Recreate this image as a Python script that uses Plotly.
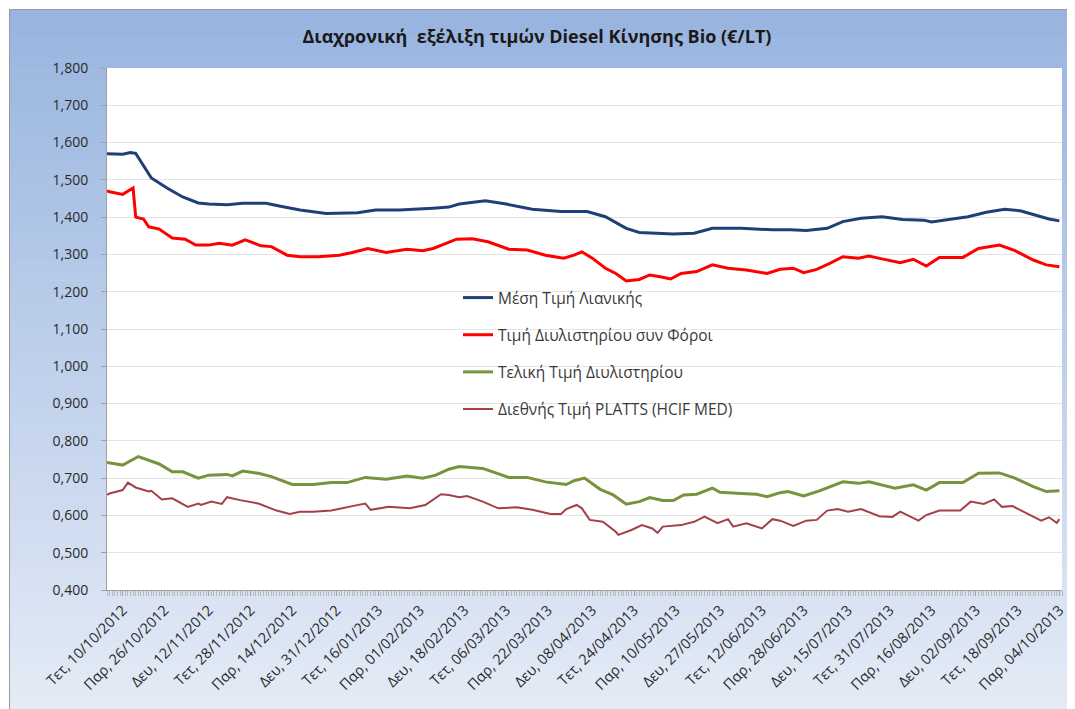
import plotly.graph_objects as go

# ---------------- data ----------------
retail_dates = ["2012-10-04", "2012-10-10", "2012-10-13", "2012-10-15", "2012-10-21", "2012-10-27",
                "2012-11-02", "2012-11-08", "2012-11-12", "2012-11-19", "2012-11-25", "2012-12-04",
                "2012-12-09", "2012-12-17", "2012-12-27", "2013-01-08", "2013-01-15", "2013-01-24",
                "2013-02-06", "2013-02-12", "2013-02-16", "2013-02-26", "2013-03-06", "2013-03-16",
                "2013-03-27", "2013-04-06", "2013-04-13", "2013-04-21", "2013-04-26", "2013-05-09",
                "2013-05-17", "2013-05-24", "2013-06-04", "2013-06-16", "2013-06-23", "2013-06-29",
                "2013-07-07", "2013-07-13", "2013-07-20", "2013-07-28", "2013-08-05", "2013-08-13",
                "2013-08-16", "2013-08-23", "2013-08-30", "2013-09-06", "2013-09-13", "2013-09-19",
                "2013-09-25", "2013-09-30", "2013-10-04"]
retail_vals = [1.570, 1.569, 1.573, 1.571, 1.505, 1.478,
               1.454, 1.438, 1.435, 1.433, 1.437, 1.437,
               1.430, 1.419, 1.410, 1.412, 1.419, 1.419,
               1.424, 1.427, 1.435, 1.444, 1.435, 1.421,
               1.415, 1.415, 1.401, 1.370, 1.359, 1.355,
               1.357, 1.370, 1.370, 1.366, 1.366, 1.364,
               1.370, 1.388, 1.397, 1.401, 1.394, 1.392,
               1.387, 1.394, 1.401, 1.413, 1.421, 1.417,
               1.406, 1.395, 1.390]

taxed_dates = ["2012-10-04", "2012-10-05", "2012-10-10", "2012-10-14", "2012-10-15", "2012-10-18",
               "2012-10-20", "2012-10-24", "2012-10-29", "2012-11-03", "2012-11-07", "2012-11-12",
               "2012-11-16", "2012-11-21", "2012-11-26", "2012-12-02", "2012-12-06", "2012-12-12",
               "2012-12-17", "2012-12-24", "2013-01-01", "2013-01-06", "2013-01-12", "2013-01-19",
               "2013-01-27", "2013-02-02", "2013-02-06", "2013-02-12", "2013-02-15", "2013-02-21",
               "2013-02-27", "2013-03-07", "2013-03-14", "2013-03-21", "2013-03-28", "2013-04-01",
               "2013-04-04", "2013-04-08", "2013-04-13", "2013-04-17", "2013-04-21", "2013-04-26",
               "2013-04-30", "2013-05-04", "2013-05-08", "2013-05-12", "2013-05-18", "2013-05-24",
               "2013-05-30", "2013-06-06", "2013-06-14", "2013-06-19", "2013-06-24", "2013-06-28",
               "2013-07-03", "2013-07-08", "2013-07-13", "2013-07-19", "2013-07-23", "2013-07-28",
               "2013-08-04", "2013-08-09", "2013-08-14", "2013-08-19", "2013-08-28", "2013-09-03",
               "2013-09-11", "2013-09-17", "2013-09-24", "2013-09-29", "2013-10-04"]
taxed_vals = [1.470, 1.468, 1.461, 1.478, 1.400, 1.395,
              1.374, 1.368, 1.344, 1.341, 1.325, 1.325,
              1.330, 1.325, 1.339, 1.323, 1.321, 1.298,
              1.294, 1.294, 1.298, 1.305, 1.316, 1.305,
              1.314, 1.310, 1.316, 1.334, 1.341, 1.342,
              1.334, 1.314, 1.312, 1.298, 1.290, 1.298,
              1.307, 1.290, 1.263, 1.249, 1.229, 1.233,
              1.245, 1.240, 1.234, 1.249, 1.254, 1.272,
              1.263, 1.258, 1.249, 1.260, 1.263, 1.251,
              1.260, 1.276, 1.294, 1.290, 1.296, 1.288,
              1.278, 1.287, 1.269, 1.292, 1.292, 1.316,
              1.325, 1.310, 1.285, 1.272, 1.267]

refinery_dates = ["2012-10-04", "2012-10-05", "2012-10-10", "2012-10-16", "2012-10-20", "2012-10-24",
                  "2012-10-29", "2012-11-02", "2012-11-08", "2012-11-12", "2012-11-19", "2012-11-21",
                  "2012-11-25", "2012-12-01", "2012-12-06", "2012-12-14", "2012-12-22", "2012-12-29",
                  "2013-01-04", "2013-01-11", "2013-01-19", "2013-01-27", "2013-02-02", "2013-02-07",
                  "2013-02-12", "2013-02-16", "2013-02-25", "2013-03-07", "2013-03-14", "2013-03-21",
                  "2013-03-29", "2013-04-01", "2013-04-05", "2013-04-11", "2013-04-16", "2013-04-21",
                  "2013-04-26", "2013-04-30", "2013-05-05", "2013-05-09", "2013-05-13", "2013-05-18",
                  "2013-05-24", "2013-05-27", "2013-06-04", "2013-06-10", "2013-06-14", "2013-06-19",
                  "2013-06-22", "2013-06-28", "2013-07-04", "2013-07-13", "2013-07-19", "2013-07-23",
                  "2013-08-02", "2013-08-09", "2013-08-14", "2013-08-19", "2013-08-28", "2013-09-03",
                  "2013-09-11", "2013-09-17", "2013-09-24", "2013-09-29", "2013-10-04"]
refinery_vals = [0.742, 0.741, 0.735, 0.758, 0.747, 0.738,
                 0.717, 0.717, 0.700, 0.708, 0.710, 0.706,
                 0.719, 0.713, 0.704, 0.683, 0.683, 0.688,
                 0.688, 0.702, 0.697, 0.706, 0.700, 0.708,
                 0.724, 0.731, 0.726, 0.702, 0.702, 0.690,
                 0.683, 0.693, 0.700, 0.670, 0.655, 0.630,
                 0.637, 0.648, 0.640, 0.640, 0.655, 0.657,
                 0.673, 0.662, 0.659, 0.657, 0.650, 0.661,
                 0.664, 0.652, 0.666, 0.690, 0.686, 0.690,
                 0.673, 0.682, 0.668, 0.688, 0.688, 0.713,
                 0.714, 0.700, 0.677, 0.664, 0.666]

platts_dates = ["2012-10-04", "2012-10-05", "2012-10-10", "2012-10-12", "2012-10-15", "2012-10-20",
                "2012-10-21", "2012-10-25", "2012-10-29", "2012-11-04", "2012-11-08", "2012-11-09",
                "2012-11-13", "2012-11-17", "2012-11-19", "2012-11-24", "2012-12-01", "2012-12-08",
                "2012-12-13", "2012-12-17", "2012-12-22", "2012-12-29", "2013-01-06", "2013-01-11",
                "2013-01-13", "2013-01-20", "2013-01-28", "2013-02-03", "2013-02-09", "2013-02-12",
                "2013-02-16", "2013-02-19", "2013-02-25", "2013-03-03", "2013-03-10", "2013-03-16",
                "2013-03-23", "2013-03-27", "2013-03-29", "2013-04-02", "2013-04-04", "2013-04-07",
                "2013-04-12", "2013-04-17", "2013-04-18", "2013-04-23", "2013-04-27", "2013-05-01",
                "2013-05-03", "2013-05-05", "2013-05-12", "2013-05-17", "2013-05-21", "2013-05-26",
                "2013-05-30", "2013-06-01", "2013-06-06", "2013-06-12", "2013-06-16", "2013-06-19",
                "2013-06-24", "2013-06-29", "2013-07-03", "2013-07-07", "2013-07-11", "2013-07-15",
                "2013-07-20", "2013-07-27", "2013-08-01", "2013-08-04", "2013-08-11", "2013-08-14",
                "2013-08-19", "2013-08-27", "2013-08-31", "2013-09-05", "2013-09-09", "2013-09-12",
                "2013-09-16", "2013-09-23", "2013-09-27", "2013-09-30", "2013-10-03", "2013-10-04"]
platts_vals = [0.655, 0.659, 0.668, 0.688, 0.675, 0.664,
               0.666, 0.643, 0.646, 0.623, 0.632, 0.628,
               0.637, 0.631, 0.649, 0.641, 0.632, 0.613,
               0.604, 0.610, 0.610, 0.613, 0.625, 0.632,
               0.615, 0.623, 0.619, 0.628, 0.657, 0.655,
               0.649, 0.652, 0.637, 0.619, 0.622, 0.615,
               0.604, 0.604, 0.617, 0.628, 0.619, 0.588,
               0.583, 0.556, 0.548, 0.561, 0.574, 0.565,
               0.553, 0.570, 0.574, 0.583, 0.597, 0.579,
               0.590, 0.570, 0.579, 0.565, 0.590, 0.586,
               0.572, 0.586, 0.588, 0.613, 0.617, 0.610,
               0.617, 0.598, 0.596, 0.610, 0.586, 0.601,
               0.613, 0.613, 0.637, 0.631, 0.643, 0.623,
               0.625, 0.601, 0.586, 0.595, 0.580, 0.590]

series_names = ["Μέση Τιμή Λιανικής", "Τιμή Διυλιστηρίου συν Φόροι",
                "Τελική Τιμή Διυλιστηρίου", "Διεθνής Τιμή PLATTS (HCIF MED)"]

tick_dates = ["2012-10-10", "2012-10-26", "2012-11-12", "2012-11-28", "2012-12-14", "2012-12-31",
              "2013-01-16", "2013-02-01", "2013-02-18", "2013-03-06", "2013-03-22", "2013-04-08",
              "2013-04-24", "2013-05-10", "2013-05-27", "2013-06-12", "2013-06-28", "2013-07-15",
              "2013-07-31", "2013-08-16", "2013-09-02", "2013-09-18", "2013-10-04"]
tick_labels = ["Τετ, 10/10/2012", "Παρ, 26/10/2012", "Δευ, 12/11/2012", "Τετ, 28/11/2012",
               "Παρ, 14/12/2012", "Δευ, 31/12/2012", "Τετ, 16/01/2013", "Παρ, 01/02/2013",
               "Δευ, 18/02/2013", "Τετ, 06/03/2013", "Παρ, 22/03/2013", "Δευ, 08/04/2013",
               "Τετ, 24/04/2013", "Παρ, 10/05/2013", "Δευ, 27/05/2013", "Τετ, 12/06/2013",
               "Παρ, 28/06/2013", "Δευ, 15/07/2013", "Τετ, 31/07/2013", "Παρ, 16/08/2013",
               "Δευ, 02/09/2013", "Τετ, 18/09/2013", "Παρ, 04/10/2013"]

title_text = "Διαχρονική  εξέλιξη τιμών Diesel Κίνησης Bio (€/LT)"

# ---------------- layout geometry ----------------
# the page body has an 8px margin, so the figure is drawn 8px lower/right;
# all reference pixel positions are shifted by OFF
OFF = 8
W, H = 1075 - OFF, 709 - OFF
PL, PR, PT, PB = 107 - OFF, 1062 - OFF, 68 - OFF, 590 - OFF  # plot area in figure pixels


def px_x(px):
    return (px - OFF - PL) / (PR - PL)


def px_y(py):
    return (PB - (py - OFF)) / (PB - PT)


fig = go.Figure()

colors = ["#1F3F77", "#FF0000", "#77933C", "#A3404A"]
widths = [3, 3, 3, 2]
all_x = [retail_dates, taxed_dates, refinery_dates, platts_dates]
all_y = [retail_vals, taxed_vals, refinery_vals, platts_vals]

for i in range(4):
    fig.add_trace(go.Scatter(
        x=all_x[i], y=all_y[i], mode="lines", name=series_names[i],
        legendgroup=f"g{i}",
        line=dict(color=colors[i], width=widths[i]),
    ))

# background gradient frame (bands)
shapes = []
top_c = (152, 180, 223)
bot_c = (228, 235, 246)
y0, y1 = 9, 712
n = 70
for k in range(n):
    a = y0 + (y1 - y0) * k / n
    b = y0 + (y1 - y0) * (k + 1) / n
    t = k / (n - 1)
    c = tuple(int(round(top_c[j] + (bot_c[j] - top_c[j]) * t)) for j in range(3))
    shapes.append(dict(type="rect", xref="paper", yref="paper",
                       x0=px_x(9), x1=px_x(1080), y0=px_y(a), y1=px_y(b + 0.6),
                       line=dict(width=0), fillcolor="rgb(%d,%d,%d)" % c, layer="below"))
shapes.append(dict(type="rect", xref="paper", yref="paper",
                   x0=px_x(9.5), x1=px_x(1085), y0=px_y(9.5), y1=px_y(720),
                   line=dict(width=1, color="#9a9a9a"), fillcolor="rgba(0,0,0,0)", layer="below"))
# white plot area
shapes.append(dict(type="rect", xref="paper", yref="paper",
                   x0=0, x1=1, y0=0, y1=1,
                   line=dict(width=0), fillcolor="white", layer="below"))

fig.update_layout(
    width=W, height=H,
    margin=dict(l=PL, r=W - PR, t=PT, b=H - PB, autoexpand=False),
    paper_bgcolor="white",
    plot_bgcolor="rgba(0,0,0,0)",
    separators=",.",
    font=dict(family="Open Sans, sans-serif", color="#333333"),
    shapes=shapes,
    title=dict(text="<b>" + title_text + "</b>", x=(537 - OFF) / W, xref="container", xanchor="center",
               y=1 - (37 - OFF) / H, yref="container", yanchor="middle",
               font=dict(size=18, color="#1a1a1a")),
    showlegend=True,
    legend=dict(x=px_x(458), y=px_y(281), xanchor="left", yanchor="top",
                bgcolor="rgba(0,0,0,0)", font=dict(size=15.5, color="#3a3a3a"),
                tracegroupgap=14, itemwidth=30),
    xaxis=dict(
        type="date", range=["2012-10-04", "2013-10-05"],
        tickmode="array", tickvals=tick_dates, ticktext=tick_labels, tickangle=-45,
        tickfont=dict(size=14.5, color="#2a2a2a"),
        showgrid=False, showline=True, linecolor="#a0a0a0", linewidth=1,
        ticks="outside", ticklen=5, tickcolor="#a0a0a0",
        minor=dict(dtick=86400000, ticks="outside", ticklen=5, tickcolor="#b8b8b8", showgrid=False),
        zeroline=False,
    ),
    yaxis=dict(
        range=[0.4, 1.8], dtick=0.1, tick0=0.4, tickformat=".3f",
        tickfont=dict(size=14, color="#2a2a2a"),
        showgrid=True, gridcolor="#e4e4e4", gridwidth=1,
        showline=True, linecolor="#a0a0a0", linewidth=1,
        ticks="outside", ticklen=5, tickcolor="#a0a0a0",
        ticklabelstandoff=10,
        zeroline=False,
    ),
)

fig.write_html("out.html")
